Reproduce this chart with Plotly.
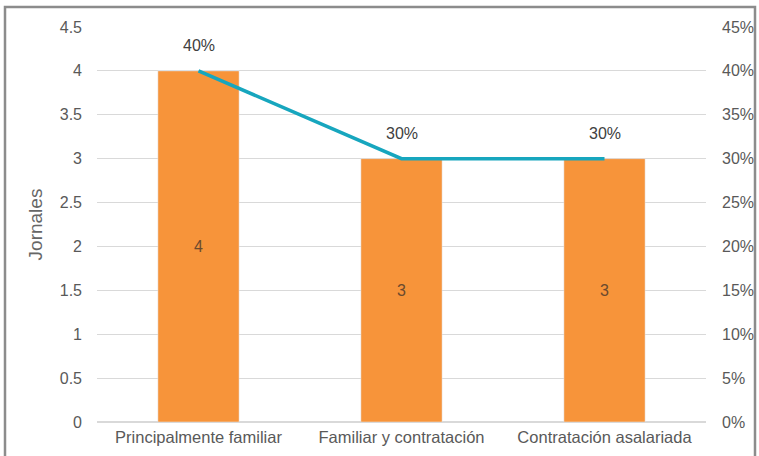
import plotly.graph_objects as go

categories = ["Principalmente familiar", "Familiar y contratación", "Contratación asalariada"]
jornales = [4, 3, 3]
porcentaje = [0.40, 0.30, 0.30]

W, H = 759, 456
L, R, T, B = 97, 53, 27, 34
pw, ph = W - L - R, H - T - B

FONT = "Liberation Sans"
GRAY = "#595959"

fig = go.Figure()
fig.add_trace(go.Bar(
    x=categories, y=jornales, marker_color="#F7943A", width=0.4,
    text=[str(v) for v in jornales], textposition="inside",
    insidetextanchor="middle", constraintext="none", textangle=0,
    insidetextfont=dict(color="#6B4A2E", size=16, family=FONT),
    yaxis="y", showlegend=False,
))
fig.add_trace(go.Scatter(
    x=categories, y=porcentaje, mode="lines",
    line=dict(color="#17A6BE", width=3.5),
    yaxis="y2", showlegend=False,
))
for c, p in zip(categories, porcentaje):
    fig.add_annotation(x=c, y=p, xref="x", yref="y2", text=f"{round(p*100)}%",
                       showarrow=False, yshift=25,
                       font=dict(color="#404040", size=16, family=FONT))

def px2paper_x(p):
    return (p - L) / pw

def px2paper_y(p):
    return (H - B - p) / ph

fig.add_shape(type="rect", xref="paper", yref="paper",
              x0=px2paper_x(5), x1=px2paper_x(755),
              y0=px2paper_y(470), y1=px2paper_y(7),
              line=dict(color="#8C8C8C", width=2.5), fillcolor="rgba(0,0,0,0)")

fig.update_layout(
    width=W, height=H,
    margin=dict(l=L, r=R, t=T, b=B, autoexpand=False),
    plot_bgcolor="white", paper_bgcolor="white",
    font=dict(family=FONT, color=GRAY, size=16),
    xaxis=dict(showgrid=False, showline=False, ticks="", tickfont=dict(size=16.5),
               ticklabelstandoff=3, automargin=False),
    yaxis=dict(range=[0, 4.5], dtick=0.5, showgrid=True, gridcolor="#D9D9D9",
               gridwidth=1, zeroline=True, zerolinecolor="#D9D9D9",
               title=dict(text="Jornales", font=dict(size=19, color="#666666"), standoff=12),
               tickfont=dict(size=16), ticks="", tickformat="~g",
               ticklabelstandoff=14, automargin=False),
    yaxis2=dict(range=[0, 0.45], dtick=0.05, overlaying="y", side="right",
                tickformat=".0%", showgrid=False, zeroline=False,
                tickfont=dict(size=16), ticks="", ticklabelstandoff=15,
                automargin=False),
)

fig.write_html("out.html")
